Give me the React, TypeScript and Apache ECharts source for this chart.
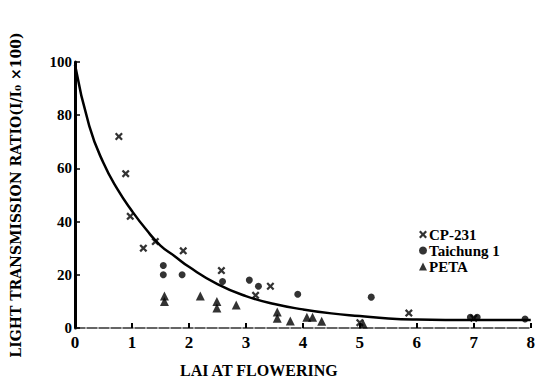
import React, { useEffect, useRef } from "react";
import * as echarts from "echarts";

const cpLai = [0.77, 0.89, 0.97, 1.2, 1.41, 1.9, 2.57, 3.17, 3.43, 5.0, 5.86, 7.0];
const cpVal = [72, 58, 42, 30, 32.5, 29, 21.6, 12.3, 15.7, 2, 5.6, 3.7];

const tcLai = [1.55, 1.55, 1.88, 2.59, 3.06, 3.22, 3.91, 5.2, 6.94, 7.06, 7.9];
const tcVal = [23.5, 20, 20, 17.5, 18, 15.7, 12.7, 11.6, 4, 4, 3.4];

const petaLai = [1.57, 1.57, 2.2, 2.49, 2.49, 2.83, 3.55, 3.55, 3.78, 4.07, 4.17, 4.33, 5.06];
const petaVal = [12, 10, 12, 10, 7.5, 8.6, 6, 3.7, 2.6, 4, 4, 2.5, 1.5];

const curveLai = [0, 0.25, 0.5, 0.75, 1.0, 1.25, 1.5, 1.75, 2.0, 2.5, 3.0, 3.5, 4.0, 4.5, 5.0, 5.5, 6.0, 7.0, 8.0];
const curveVal = [99, 76, 62, 52, 44, 37, 31, 27, 23, 16.5, 12, 9, 7, 5.5, 4.5, 3.6, 3.2, 3, 3];

const xTicks = [0, 1, 2, 3, 4, 5, 6, 7, 8];
const yTicks = [0, 20, 40, 60, 80, 100];

const FONT = "Liberation Serif";
const WIDE = "DejaVu Serif";
const CROSS = "path://M0,2 L2,0 L5,3 L8,0 L10,2 L7,5 L10,8 L8,10 L5,7 L2,10 L0,8 L3,5 Z";

const zip = (a: number[], b: number[]) => a.map((v, i) => [v, b[i]]);

export default function App() {
  const ref = useRef<HTMLDivElement>(null);
  useEffect(() => {
    if (!ref.current) return;
    const chart = echarts.init(ref.current, null, { renderer: "svg" });
    chart.setOption({
      animation: false,
      backgroundColor: "#fff",
      grid: { left: 75, right: 5, top: 62, bottom: 62 },
      xAxis: {
        type: "value",
        min: xTicks[0],
        max: xTicks[xTicks.length - 1],
        interval: 1,
        axisLine: { lineStyle: { color: "#333", width: 1.5, type: [10, 2] } },
        axisTick: { inside: true, length: 5, lineStyle: { color: "#000", width: 2 } },
        axisLabel: { color: "#000", fontFamily: FONT, fontWeight: "bold", fontSize: 17, margin: 6 },
        splitLine: { show: false },
      },
      yAxis: {
        type: "value",
        min: yTicks[0],
        max: yTicks[yTicks.length - 1],
        interval: 20,
        name: "LIGHT TRANSMISSION RATIO(I/I\u2080 \u00d7100)",
        nameLocation: "middle",
        nameGap: 52,
        nameTextStyle: { color: "#000", fontFamily: WIDE, fontWeight: "bold", fontSize: 14 },
        axisLine: { lineStyle: { color: "#000", width: 3 } },
        axisTick: { inside: true, length: 5, lineStyle: { color: "#000", width: 1.5 } },
        axisLabel: { color: "#000", fontFamily: FONT, fontWeight: "bold", fontSize: 15, margin: 3 },
        splitLine: { show: false },
      },
      legend: {
        orient: "vertical",
        left: 414,
        top: 222,
        itemGap: 1,
        itemWidth: 8,
        itemHeight: 8,
        textStyle: { color: "#000", fontFamily: FONT, fontWeight: "bold", fontSize: 15, padding: [0, 0, 0, -3] },
        data: ["CP-231", "Taichung 1", "PETA"],
      },
      graphic: [
        {
          type: "text",
          left: 180,
          top: 362,
          style: { text: "LAI AT FLOWERING", fill: "#000", font: `bold 16px "${FONT}"` },
        },
      ],
      series: [
        {
          type: "line",
          data: zip(curveLai, curveVal),
          smooth: true,
          showSymbol: false,
          lineStyle: { color: "#000", width: 2.5 },
          z: 2,
        },
        {
          name: "CP-231",
          type: "scatter",
          symbol: CROSS,
          symbolSize: 8,
          itemStyle: { color: "#000" },
          data: zip(cpLai, cpVal),
          z: 3,
        },
        {
          name: "Taichung 1",
          type: "scatter",
          symbol: "circle",
          symbolSize: 7,
          itemStyle: { color: "#000" },
          data: zip(tcLai, tcVal),
          z: 3,
        },
        {
          name: "PETA",
          type: "scatter",
          symbol: "triangle",
          symbolSize: 9,
          itemStyle: { color: "#000" },
          data: zip(petaLai, petaVal),
          z: 3,
        },
      ],
    });
    return () => chart.dispose();
  }, []);
  return <div ref={ref} style={{ width: 538, height: 390, position: "absolute", left: 0, top: 0 }} />;
}
